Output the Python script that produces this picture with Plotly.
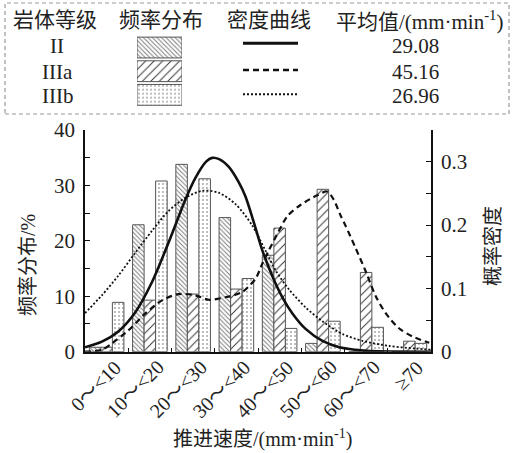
import plotly.graph_objects as go

# ---------------- data ----------------
categories = ["0～<10", "10～<20", "20～<30", "30～<40", "40～<50", "50～<60", "60～<70", "≥70"]
bin_centers = [5, 15, 25, 35, 45, 55, 65, 75]
bin_edges = [0, 10, 20, 30, 40, 50, 60, 70, 80]

grades = ["II", "IIIa", "IIIb"]
mean_values = ["29.08", "45.16", "26.96"]

freq_II = [0.8, 22.9, 33.8, 24.2, 17.4, 1.5, 0.0, 0.0]
freq_IIIa = [0.8, 9.3, 10.4, 11.3, 22.3, 29.3, 14.3, 1.9]
freq_IIIb = [8.9, 30.8, 31.2, 13.2, 4.2, 5.5, 4.4, 1.5]

dens_II_x = [0, 3.9, 7.7, 11.6, 15.5, 19.3, 23.2, 25.5, 28.0, 29.4, 31.0, 33.2, 35.5, 37.1,
             39.0, 41.0, 43.4, 45.7, 48.0, 51.0, 54.9, 58.8, 62.6, 66.0, 80.0]
dens_II_y = [0.007, 0.016, 0.032, 0.062, 0.110, 0.172, 0.240, 0.274, 0.300, 0.306, 0.304,
             0.292, 0.268, 0.245, 0.205, 0.160, 0.118, 0.085, 0.060, 0.036, 0.017, 0.007,
             0.003, 0.001, 0.0]

dens_IIIa_x = [0, 3.9, 6.2, 10.1, 13.9, 17.8, 21.6, 25.5, 28.6, 32.5, 36.3, 39.4, 41.0,
               42.5, 44.4, 46.8, 49.9, 53.7, 56.0, 57.5, 59.1, 60.3, 62.6, 64.9, 67.2,
               69.6, 72.6, 75.7, 79.6]
dens_IIIa_y = [0.0, 0.003, 0.013, 0.034, 0.060, 0.081, 0.091, 0.089, 0.082, 0.086, 0.094,
               0.115, 0.139, 0.160, 0.185, 0.214, 0.232, 0.247, 0.253, 0.240, 0.215, 0.198,
               0.163, 0.127, 0.088, 0.060, 0.037, 0.024, 0.014]

dens_IIIb_x = [0, 3.9, 7.7, 11.6, 15.5, 19.3, 23.2, 27.1, 30.9, 34.8, 38.6, 41.7, 44.1,
               47.2, 51.0, 54.9, 59.5, 64.2, 70.3, 76.5, 80.0]
dens_IIIb_y = [0.061, 0.089, 0.120, 0.156, 0.191, 0.222, 0.243, 0.254, 0.251, 0.233, 0.200,
               0.160, 0.128, 0.098, 0.070, 0.048, 0.028, 0.017, 0.009, 0.005, 0.003]

left_ticks = [0, 10, 20, 30, 40]
right_ticks = [0, 0.1, 0.2, 0.3]
right_ticktext = ["0", "0.1", "0.2", "0.3"]

# ---------------- layout helpers ----------------
W, H = 512, 453


def fx(p):
    return p / W


def fy(p):
    return 1 - p / H


PL, PR, PT, PB = 85, 431, 130, 351.7
FONT = "Liberation Serif, Noto Sans CJK SC, serif"
TXT = "#222222"
LINE = "#111111"

styles = {
    "II": dict(shape="\\", fg="#7a7a7a", size=3.2, sol=0.3),
    "IIIa": dict(shape="/", fg="#333333", size=6, sol=0.16),
    "IIIb": dict(shape=".", fg="#555555", size=4, sol=0.1),
}

fig = go.Figure()

for g, vals in zip(grades, [freq_II, freq_IIIa, freq_IIIb]):
    s = styles[g]
    fig.add_trace(go.Bar(
        x=bin_centers, y=vals, name=g, xaxis="x", yaxis="y",
        marker=dict(color="white",
                    line=dict(color="#555555", width=1),
                    pattern=dict(shape=s["shape"], fgcolor=s["fg"], bgcolor="white",
                                 size=s["size"], solidity=s["sol"])),
        showlegend=False,
    ))

curve_styles = [("II", dens_II_x, dens_II_y, "solid", 2.6),
                ("IIIa", dens_IIIa_x, dens_IIIa_y, "6px,4px", 2.2),
                ("IIIb", dens_IIIb_x, dens_IIIb_y, "2px,2px", 1.8)]
for g, xs, ys, dash, w in curve_styles:
    fig.add_trace(go.Scatter(
        x=xs, y=ys, mode="lines", xaxis="x", yaxis="y2",
        line=dict(color=LINE, width=w, dash=dash, shape="spline", smoothing=0.8),
        showlegend=False,
    ))

# legend swatches (table)
fig.add_trace(go.Bar(
    x=[1, 1, 1], y=[2, 1, 0], orientation="h", width=0.88,
    xaxis="x3", yaxis="y3", showlegend=False,
    marker=dict(color="white", line=dict(color="#555555", width=1),
                pattern=dict(shape=[styles[g]["shape"] for g in grades],
                             fgcolor=[styles[g]["fg"] for g in grades],
                             bgcolor="white",
                             size=[styles[g]["size"] for g in grades],
                             solidity=[styles[g]["sol"] for g in grades])),
    hoverinfo="skip",
))

fig.update_layout(
    template="none",
    width=W, height=H, autosize=False,
    margin=dict(l=0, r=0, t=0, b=0, pad=0),
    paper_bgcolor="white", plot_bgcolor="white",
    barmode="group", bargap=0.2, bargroupgap=0,
    font=dict(family=FONT, size=21, color=TXT),
    xaxis=dict(domain=[fx(PL), fx(PR)], range=[0, 80], tickvals=bin_edges,
               ticks="inside", ticklen=4, tickwidth=1.3, tickcolor=LINE,
               showticklabels=False, showline=True, linecolor=LINE, linewidth=1.6,
               showgrid=False, zeroline=False, fixedrange=True, automargin=False),
    yaxis=dict(domain=[fy(PB), fy(PT)], range=[0, 40], tickvals=left_ticks,
               ticks="inside", ticklen=5, tickwidth=1.3, tickcolor=LINE,
               minor=dict(dtick=5, tick0=0, ticks="inside", ticklen=5, tickcolor=LINE,
                          tickwidth=1.3, showgrid=False),
               showline=True, linecolor=LINE, linewidth=1.6, showgrid=False, zeroline=False,
               ticklabelstandoff=4, anchor="x", automargin=False, fixedrange=True),
    yaxis2=dict(domain=[fy(PB), fy(PT)], range=[0, 0.35], overlaying="y", side="right",
                tickvals=right_ticks, ticktext=right_ticktext,
                ticks="inside", ticklen=5, tickwidth=1.3, tickcolor=LINE,
                minor=dict(dtick=0.05, tick0=0, ticks="inside", ticklen=5, tickcolor=LINE,
                           tickwidth=1.3, showgrid=False),
                showline=True, linecolor=LINE, linewidth=1.6, showgrid=False, zeroline=False,
                ticklabelstandoff=4, anchor="x", automargin=False, fixedrange=True),
    xaxis3=dict(domain=[fx(137), fx(182)], range=[0, 1], visible=False, fixedrange=True),
    yaxis3=dict(domain=[fy(106.7), fy(35.7)], range=[-0.5, 2.5], visible=False,
                anchor="x3", fixedrange=True),
)


def pann(x, y, text, size=21, angle=0):
    return dict(x=fx(x), y=fy(y), xref="paper", yref="paper", text=text, showarrow=False,
                xanchor="center", yanchor="middle", textangle=angle, font=dict(size=size))


ann = []
# x tick labels (rotated)
for c, lab in zip(bin_centers, categories):
    ann.append(dict(x=c, xref="x", y=fy(PB), yref="paper", text=lab, showarrow=False,
                    textangle=-45, xanchor="right", yanchor="top", xshift=21, yshift=-2,
                    font=dict(size=20)))
# axis titles
ann.append(pann(262, 438, "推进速度/(mm·min<sup>-1</sup>)", 20))
ann.append(pann(28, 265, "频率分布/%", 20, -90))
ann.append(pann(493, 246, "概率密度", 20, -90))
# table header
headers = [("岩体等级", 54.5), ("频率分布", 161), ("密度曲线", 269),
           ("平均值/(mm·min<sup>-1</sup>)", 419)]
for t, x in headers:
    ann.append(pann(x, 20, t))
row_y = [46, 71.7, 95.8]
for g, m, y in zip(grades, mean_values, row_y):
    ann.append(pann(57, y, g))
    ann.append(pann(415, y, m))
fig.update_layout(annotations=ann)

shapes = [dict(type="rect", xref="paper", yref="paper", x0=fx(5), x1=fx(509),
               y0=fy(114), y1=fy(3), line=dict(color="#9a9a9a", width=1.2, dash="4px,3px"))]
line_y = [43.3, 70, 94.3]
for (g, _, _, dash, w), y in zip(curve_styles, line_y):
    shapes.append(dict(type="line", xref="paper", yref="paper", x0=fx(243), x1=fx(298),
                       y0=fy(y), y1=fy(y), line=dict(color=LINE, width=w + 0.3, dash=dash)))
fig.update_layout(shapes=shapes)

fig.write_html("out.html", config={"displayModeBar": False},
               post_script="document.body.style.margin='0';")
